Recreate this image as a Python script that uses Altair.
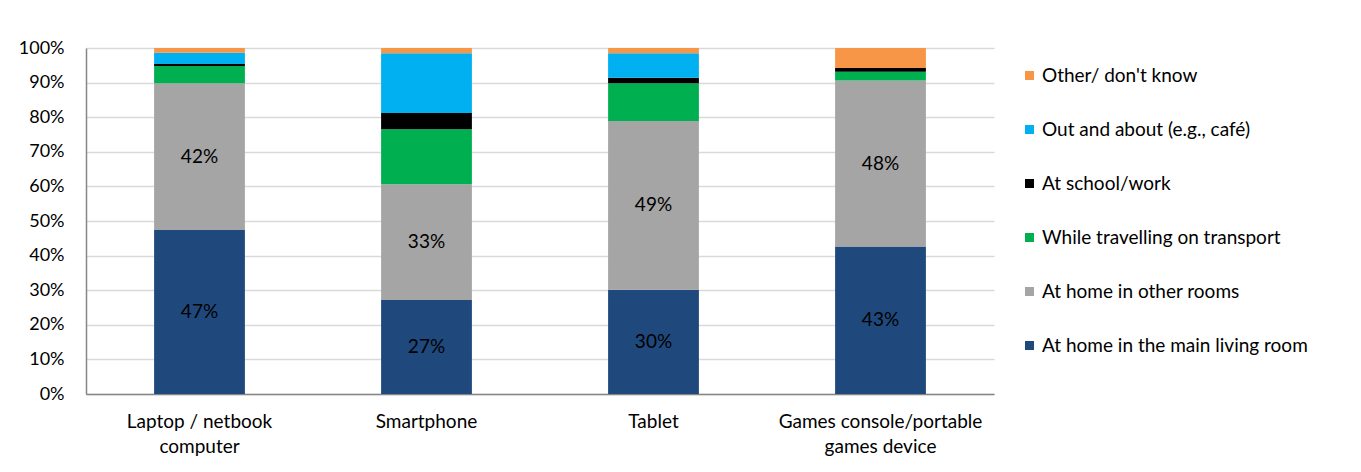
import altair as alt
import pandas as pd

devices = ["Laptop / netbook computer", "Smartphone", "Tablet", "Games console/portable games device"]
locations = [
    "At home in the main living room",
    "At home in other rooms",
    "While travelling on transport",
    "At school/work",
    "Out and about (e.g., café)",
    "Other/ don't know",
]
colors = ["#1F497D", "#A5A5A5", "#00B050", "#000000", "#00B0F0", "#F79646"]

living = [0.474, 0.272, 0.301, 0.426]
other_rooms = [0.424, 0.334, 0.488, 0.480]
transport = [0.050, 0.159, 0.109, 0.025]
school = [0.006, 0.047, 0.016, 0.011]
out_about = [0.032, 0.173, 0.071, 0.0]
other = [0.014, 0.015, 0.015, 0.058]
y_ticks = [0.0, 0.1, 0.2, 0.3, 0.4, 0.5, 0.6, 0.7, 0.8, 0.9, 1.0]

series = [living, other_rooms, transport, school, out_about, other]
rows = []
for li, (loc, vals) in enumerate(zip(locations, series)):
    for d, v in zip(devices, vals):
        rows.append({"device": d, "location": loc, "order": li, "value": v})
df = pd.DataFrame(rows)

FONT = "Lato"
FS = 19

label_expr = (
    "datum.label == 'Laptop / netbook computer' ? ['Laptop / netbook', 'computer'] : "
    "datum.label == 'Games console/portable games device' ? ['Games console/portable', 'games device'] : datum.label"
)

base = alt.Chart(df).transform_stack(
    stack="value", as_=["y0", "y1"], groupby=["device"], sort=[alt.SortField("order", "ascending")]
).transform_calculate(mid="(datum.y0 + datum.y1) / 2")

x_axis = alt.Axis(
    labelAngle=0, labelExpr=label_expr, ticks=False, labelPadding=18, labelLimit=400,
    labelFontSize=FS, labelLineHeight=25, labelColor="#000000", labelFont=FONT,
    domainColor="#868686", domainWidth=1.5, grid=False,
)
y_axis = alt.Axis(
    values=y_ticks, format=".0%", ticks=False, labelPadding=22,
    labelFontSize=18, labelColor="#000000", labelFont=FONT, labelOverlap=False,
    gridColor="#D9D9D9", gridWidth=1.5, domainColor="#868686", domainWidth=1.5,
)
y_scale = alt.Scale(domain=[0, 1], nice=False)
x_scale = alt.Scale(paddingInner=0.6, paddingOuter=0.3)

bars = base.mark_bar().encode(
    x=alt.X("device:N", sort=devices, title=None, scale=x_scale, axis=x_axis),
    y=alt.Y("y0:Q", scale=y_scale, title=None, axis=y_axis),
    y2="y1:Q",
    color=alt.Color(
        "location:N",
        sort=locations,
        scale=alt.Scale(domain=locations, range=colors),
        legend=alt.Legend(
            title=None, orient="none", legendX=934, legendY=18, direction="vertical",
            symbolType="square", symbolSize=81, symbolStrokeWidth=0, labelFontSize=FS,
            labelFont=FONT, labelColor="#000000", rowPadding=34, labelOffset=3,
            values=locations[::-1], labelLimit=400,
        ),
    ),
    order=alt.Order("order:Q"),
)

labels = base.transform_filter(alt.datum.order <= 1).mark_text(
    fontSize=FS, font=FONT, color="#000000"
).encode(
    x=alt.X("device:N", sort=devices, title=None, scale=x_scale, axis=x_axis),
    y=alt.Y("mid:Q", scale=y_scale, title=None, axis=y_axis),
    text=alt.Text("value:Q", format=".0%"),
)

chart = alt.layer(bars, labels).properties(
    width=908, height=346,
    padding={"left": 78, "top": 40, "right": 359, "bottom": 66},
    autosize=alt.AutoSizeParams(type="none"),
).configure_view(stroke=None)

chart.save("out.html", embed_options={"renderer": "svg", "actions": False})
